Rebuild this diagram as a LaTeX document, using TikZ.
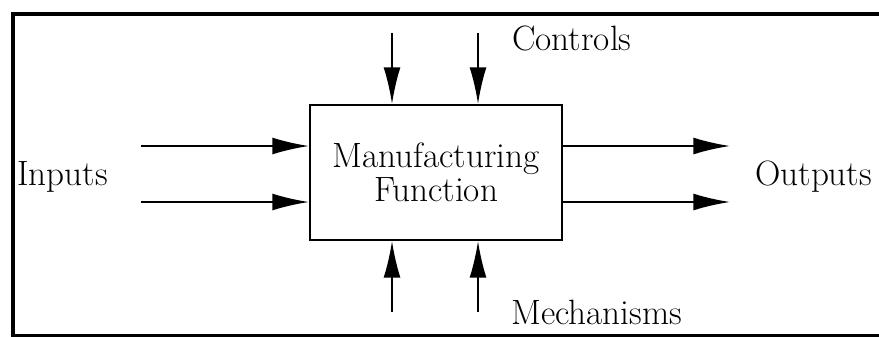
\documentclass[tikz,border=0pt]{standalone}
\usetikzlibrary{arrows.meta}
\begin{document}
\begin{tikzpicture}[x=0.025cm,y=-0.025cm,
  font=\fontsize{25}{24.5}\selectfont,
  flow/.style={line width=1.3pt,-{Latex[length=26pt,width=12pt]}}]
\useasboundingbox (0,0) rectangle (879,336);
\draw[line width=2.6pt] (13,14) rectangle (886,336);
\path node[draw,line width=1.4pt,inner sep=0pt,minimum width=6.3cm,minimum height=3.375cm,align=center] (mf) at (436,172.5) {Manufacturing\\Function}
node[anchor=base west,inner sep=0pt] (inputs) at (17,185) {Inputs}
node[anchor=base west,inner sep=0pt] (outputs) at (755,185) {Outputs}
node[anchor=base west,inner sep=0pt] (controls) at (512,50) {Controls}
node[anchor=base west,inner sep=0pt] (mechs) at (511,324) {Mechanisms}
coordinate (i1) at (141,146)
coordinate (i2) at (141,202)
coordinate (o1) at (730,146)
coordinate (o2) at (730,202)
coordinate (c1) at (392,33)
coordinate (c2) at (478,33)
coordinate (m1) at (392,312)
coordinate (m2) at (478,312)
;
\draw[flow] (i1) -- (i1 -| mf.west);
\draw[flow] (i2) -- (i2 -| mf.west);
\draw[flow] (mf.east |- o1) -- (o1);
\draw[flow] (mf.east |- o2) -- (o2);
\draw[flow] (c1) -- (c1 |- mf.north);
\draw[flow] (c2) -- (c2 |- mf.north);
\draw[flow] (m1) -- (m1 |- mf.south);
\draw[flow] (m2) -- (m2 |- mf.south);
\end{tikzpicture}
\end{document}
